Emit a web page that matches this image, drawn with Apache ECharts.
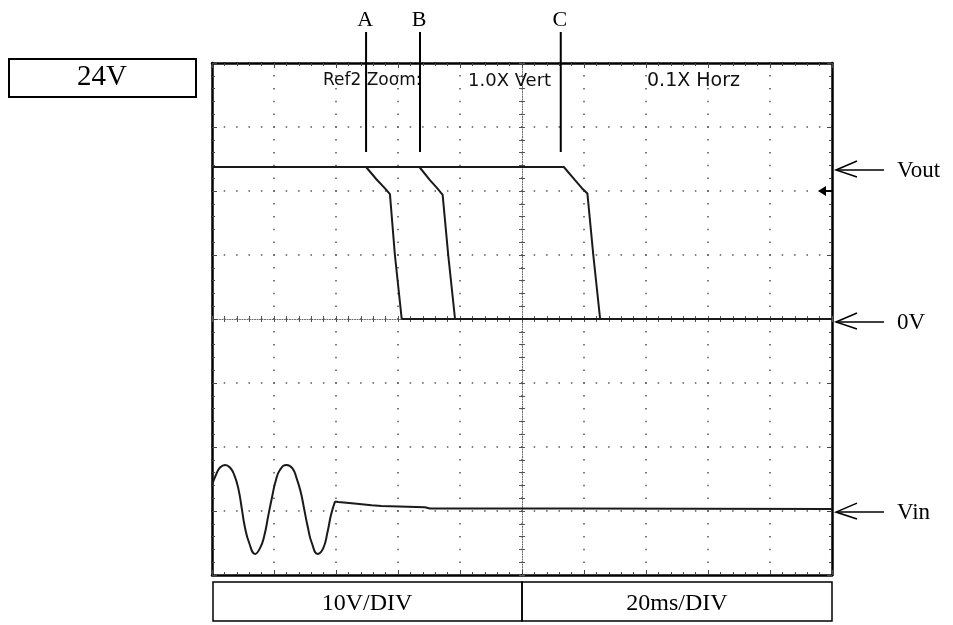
<!DOCTYPE html>
<html>
<head>
<meta charset="utf-8">
<script src="https://cdn.jsdelivr.net/npm/echarts@6/dist/echarts.min.js"></script>
<style>
html,body{margin:0;padding:0;background:#fff;}
#chart{width:953px;height:625px;}
</style>
</head>
<body>
<div id="chart"></div>
<script>
// ---- data (time in ms relative to screen centre, voltage in V; 10 V/div, 20 ms/div) ----
const voutA = [[-100,23.75],[-50.3,23.75],[-46.9,21.8],[-44.2,20.4],[-42.6,19.5],[-41.0,10.0],[-38.8,0],[100,0]];
const voutB = [[-100,23.75],[-33.1,23.75],[-29.7,21.7],[-27.3,20.4],[-25.6,19.4],[-23.8,10.0],[-21.6,0],[100,0]];
const voutC = [[-100,23.75],[13.5,23.75],[17.1,21.7],[19.4,20.4],[21.1,19.6],[23.0,10.0],[25.2,0],[100,0]];
const vinWave = [[-100,-25.9],[-98.5,-24.1],[-97.4,-23.2],[-95.8,-22.8],[-94.2,-23.2],[-92.8,-24.4],[-91.5,-26.5],
  [-90.4,-29.6],[-89.4,-32.5],[-88.0,-35.0],[-86.1,-36.7],[-84.5,-35.8],[-83.1,-33.8],[-81.8,-30.6],
  [-80.7,-28.0],[-79.5,-25.4],[-78.1,-23.6],[-75.9,-22.8],[-74.1,-23.3],[-72.7,-24.9],[-71.4,-27.0],
  [-70.3,-29.6],[-69.1,-32.5],[-67.8,-35.0],[-65.9,-36.7],[-64.1,-35.8],[-62.7,-33.2],[-61.6,-30.6],
  [-60.3,-28.5]];
const vinTail = [[-60.3,-28.5],[-59.3,-28.6],[-54.9,-28.8],[-54.4,-29.0],[-48.5,-29.1],[-48.0,-29.2],[-45.3,-29.2],
  [-44.7,-29.4],[-31.3,-29.4],[-29.7,-29.6],[14.4,-29.6],[14.8,-29.7],[100,-29.7]];
const cursorNames = ['A','B','C'];
const cursorTimes = [-50.3,-32.9,12.5];
const markerNames = ['Vout','0V','Vin'];
const markerLevels = [23.75,0,-29.7];
const triggerLevel = 20;
const channelLabel = '24V';
const scaleLabels = ['10V/DIV','20ms/DIV'];
const zoomTexts = ['Ref2 Zoom:','1.0X Vert','0.1X Horz'];
const xTicks = {min:-100,max:100,interval:20};
const yTicks = {min:-40,max:40,interval:10};

const chart = echarts.init(document.getElementById('chart'), null, {renderer:'canvas'});
const noLabel = {show:false};
function frameX(pos, split){
  return {type:'value', position:pos, min:xTicks.min, max:xTicks.max, interval:xTicks.interval,
    axisLine:{show:true, onZero:false, lineStyle:{color:'#000', width:2.5}},
    axisTick:{show:true, inside:true, length:5, lineStyle:{color:'#444', width:1}},
    minorTick:{show:true, splitNumber:5, length:3, lineStyle:{color:'#444', width:1}},
    axisLabel:noLabel,
    splitLine:{show:split, lineStyle:{color:'#555', width:1.5, type:[1.5,11.3], dashOffset:0.7}}};
}
function frameY(pos, split){
  return {type:'value', position:pos, min:yTicks.min, max:yTicks.max, interval:yTicks.interval,
    axisLine:{show:true, onZero:false, lineStyle:{color:'#000', width:2.5}},
    axisTick:{show:true, inside:true, length:5, lineStyle:{color:'#444', width:1}},
    minorTick:{show:true, splitNumber:5, length:3, lineStyle:{color:'#444', width:1}},
    axisLabel:noLabel,
    splitLine:{show:split, lineStyle:{color:'#555', width:1.5, type:[1.5,10.9], dashOffset:0.7}}};
}
function centreX(inside, line){
  return {type:'value', position:'bottom', min:xTicks.min, max:xTicks.max, interval:xTicks.interval,
    axisLine:{show:line, onZero:true, onZeroAxisIndex:0, lineStyle:{color:'#666', width:1, type:[1,1.5]}},
    axisTick:{show:true, inside:inside, length:3, lineStyle:{color:'#555', width:1}},
    minorTick:{show:true, splitNumber:5, length:3, lineStyle:{color:'#555', width:1}},
    axisLabel:noLabel, splitLine:{show:false}};
}
function centreY(inside, line){
  return {type:'value', position:'left', min:yTicks.min, max:yTicks.max, interval:yTicks.interval,
    axisLine:{show:line, onZero:true, onZeroAxisIndex:0, lineStyle:{color:'#666', width:1, type:[1,1.5]}},
    axisTick:{show:true, inside:inside, length:3, lineStyle:{color:'#555', width:1}},
    minorTick:{show:true, splitNumber:5, length:3, lineStyle:{color:'#555', width:1}},
    axisLabel:noLabel, splitLine:{show:false}};
}
const traceStyle = {color:'#1a1a1a', width:2};
function trace(data, smooth){
  const s = {type:'line', data:data, xAxisIndex:0, yAxisIndex:0, showSymbol:false, symbol:'none',
    smooth:smooth||false,
    lineStyle:traceStyle, itemStyle:{color:'#1a1a1a'}, animation:false, z:5};
  return s;
}
chart.setOption({
  animation:false,
  backgroundColor:'#fff',
  grid:{left:212, top:63, width:620, height:512, containLabel:false},
  xAxis:[frameX('bottom',true), frameX('top',false), centreX(true,true), centreX(false,false)],
  yAxis:[frameY('left',true), frameY('right',false), centreY(true,true), centreY(false,false)],
  series:[trace(voutA), trace(voutB), trace(voutC), trace(vinWave,0.5), trace(vinTail)]
});

function px(t,v){ return chart.convertToPixel({xAxisIndex:0, yAxisIndex:0},[t,v]); }
const serif = 'Liberation Serif, Times New Roman, serif';
const sans = 'DejaVu Sans, Verdana, sans-serif';
const g = [];
function txt(text,x,y,size,family,align,color){
  g.push({type:'text', z:20, style:{text:text, x:x, y:y, font:size+'px '+family, fill:color||'#000',
    textAlign:align||'center', textVerticalAlign:'middle', align:align||'center', verticalAlign:'middle'}});
}
function ln(x1,y1,x2,y2,w){
  g.push({type:'line', z:20, shape:{x1:x1,y1:y1,x2:x2,y2:y2}, style:{stroke:'#000', lineWidth:w}});
}
function box(x,y,w,h,lw){
  g.push({type:'rect', z:19, shape:{x:x,y:y,width:w,height:h}, style:{fill:'none', stroke:'#000', lineWidth:lw}});
}
// channel box
box(9,59,187,38,2);
txt(channelLabel,102,77,29,serif);
// scale boxes
const gl = px(xTicks.min,0)[0], gr = px(xTicks.max,0)[0], gc = px(0,0)[0];
box(gl+1,582,gc-gl-1,39,1.5);
box(gc,582,gr-gc,39,1.5);
txt(scaleLabels[0],(gl+gc)/2,604,24,serif);
txt(scaleLabels[1],(gc+gr)/2,604,24,serif);
// scope header text
txt(zoomTexts[0],323,81,17,sans,'left','#111');
txt(zoomTexts[1],468,81,18,sans,'left','#111');
txt(zoomTexts[2],647,81,19,sans,'left','#111');
// cursors
cursorNames.forEach((n,i)=>{
  const x = px(cursorTimes[i],0)[0];
  ln(x,32,x,152,2);
  txt(n,x-1,20,22,serif);
});
// right-hand markers
markerNames.forEach((n,i)=>{
  const y = px(0,markerLevels[i])[1] + 3;
  ln(836,y,884,y,1.5);
  g.push({type:'polyline', z:20, shape:{points:[[857,y-9],[836,y],[857,y+7]]}, style:{stroke:'#000', fill:'none', lineWidth:1.5}});
  txt(n,897,y+1,23,serif,'left');
});
// trigger level marker
const ty = px(0,triggerLevel)[1];
g.push({type:'polygon', z:20, shape:{points:[[818,ty],[826,ty-5],[826,ty+5]]}, style:{fill:'#000'}});
ln(825,ty,832,ty,2);
chart.setOption({graphic:g});
</script>
</body>
</html>
